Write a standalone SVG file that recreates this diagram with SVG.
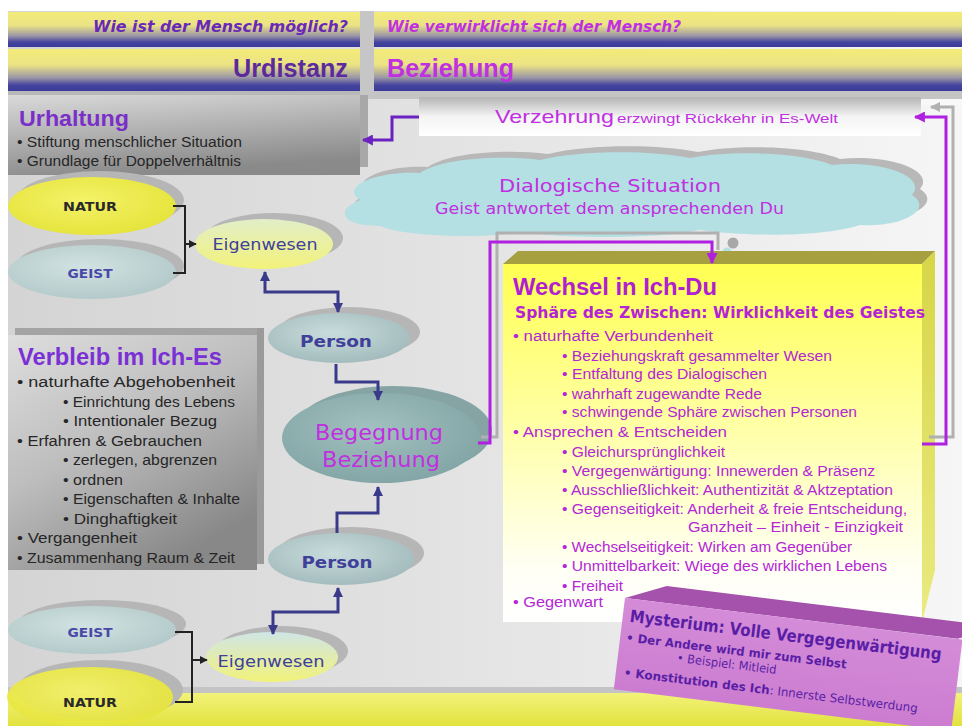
<svg xmlns="http://www.w3.org/2000/svg" width="962" height="726" viewBox="0 0 962 726">
<defs>
<linearGradient id="bg" x1="0" y1="0" x2="1" y2="0"><stop offset="0" stop-color="#d4d4d4"/><stop offset="0.5" stop-color="#e4e4e4"/><stop offset="1" stop-color="#f6f6f6"/></linearGradient>
<linearGradient id="hd" x1="0" y1="0" x2="0" y2="1"><stop offset="0" stop-color="#f3eb78"/><stop offset="0.38" stop-color="#ebe384"/><stop offset="0.68" stop-color="#9c97a6"/><stop offset="0.86" stop-color="#45449e"/><stop offset="1" stop-color="#3a3a9a"/></linearGradient>
<linearGradient id="band" x1="0" y1="0" x2="0" y2="1"><stop offset="0" stop-color="#f2f27a"/><stop offset="1" stop-color="#e2e23e"/></linearGradient>
<linearGradient id="urh" x1="0" y1="0" x2="0.3" y2="1"><stop offset="0" stop-color="#dadada"/><stop offset="1" stop-color="#8a8a8a"/></linearGradient>
<linearGradient id="ver" x1="0" y1="0" x2="0.6" y2="1"><stop offset="0" stop-color="#dedede"/><stop offset="0.5" stop-color="#bdbdbd"/><stop offset="1" stop-color="#888888"/></linearGradient>
<linearGradient id="vz" x1="0" y1="0" x2="0" y2="1"><stop offset="0" stop-color="#b4b4b4"/><stop offset="0.5" stop-color="#f4f4f4"/><stop offset="1" stop-color="#ffffff"/></linearGradient>
<linearGradient id="yb" x1="0" y1="0" x2="0" y2="1"><stop offset="0" stop-color="#ffff52"/><stop offset="0.45" stop-color="#ffffa6"/><stop offset="0.85" stop-color="#fffff4"/><stop offset="1" stop-color="#ffffff"/></linearGradient>
<linearGradient id="ys" x1="0" y1="0" x2="0" y2="1"><stop offset="0" stop-color="#d6d648"/><stop offset="1" stop-color="#eaea80"/></linearGradient>
<linearGradient id="my" x1="0" y1="0" x2="0" y2="1"><stop offset="0" stop-color="#d48cd8"/><stop offset="1" stop-color="#cc7cd0"/></linearGradient>
<radialGradient id="gY" cx="0.45" cy="0.4" r="0.6"><stop offset="0" stop-color="#f4f268"/><stop offset="1" stop-color="#e6e43c"/></radialGradient>
<radialGradient id="gG" cx="0.45" cy="0.4" r="0.6"><stop offset="0" stop-color="#d2e2e2"/><stop offset="1" stop-color="#b4caca"/></radialGradient>
<radialGradient id="gP" cx="0.45" cy="0.4" r="0.6"><stop offset="0" stop-color="#c8dcdc"/><stop offset="1" stop-color="#a4bcbe"/></radialGradient>
<radialGradient id="gB" cx="0.45" cy="0.4" r="0.6"><stop offset="0" stop-color="#a2c0c0"/><stop offset="1" stop-color="#84a6a6"/></radialGradient>
<linearGradient id="gE1" x1="0" y1="0" x2="0" y2="1"><stop offset="0" stop-color="#e2eec8"/><stop offset="1" stop-color="#f2f27a"/></linearGradient>
<linearGradient id="gE2" x1="0" y1="0" x2="0" y2="1"><stop offset="0" stop-color="#cfe6e6"/><stop offset="1" stop-color="#f2f27a"/></linearGradient>
<marker id="mb" viewBox="0 0 10 10" refX="9" refY="5" markerWidth="10" markerHeight="10" orient="auto-start-reverse" markerUnits="userSpaceOnUse"><path d="M0,0 L10,5 L0,10 z" fill="#3a3a8a"/></marker>
<marker id="mm" viewBox="0 0 10 10" refX="9" refY="5" markerWidth="11" markerHeight="11" orient="auto" markerUnits="userSpaceOnUse"><path d="M0,0 L10,5 L0,10 z" fill="#b020e0"/></marker>
<marker id="mp" viewBox="0 0 10 10" refX="9" refY="5" markerWidth="11" markerHeight="11" orient="auto" markerUnits="userSpaceOnUse"><path d="M0,0 L10,5 L0,10 z" fill="#6a22c0"/></marker>
<marker id="mk" viewBox="0 0 10 10" refX="9" refY="5" markerWidth="8" markerHeight="8" orient="auto" markerUnits="userSpaceOnUse"><path d="M0,0 L10,5 L0,10 z" fill="#222"/></marker>
<marker id="mg" viewBox="0 0 10 10" refX="9" refY="5" markerWidth="10" markerHeight="10" orient="auto" markerUnits="userSpaceOnUse"><path d="M0,0 L10,5 L0,10 z" fill="#b0b0b0"/></marker>
</defs>
<style>
.t{font-family:"Liberation Sans",Arial,sans-serif}
.d{font-family:"DejaVu Sans",Verdana,sans-serif}
.bl{font-size:14px;fill:#262626}
.yl{font-size:14px;fill:#b426d6}
.sh{fill:#b6b6b6}
.bt{font-weight:bold;font-size:16px;fill:#40409a;text-anchor:middle}
.blue{fill:none;stroke:#3a3a8a;stroke-width:3}
.mag{fill:none;stroke:#b020e0;stroke-width:3}
.gry{fill:none;stroke:#b0b0b0;stroke-width:3}
</style>
<rect width="962" height="726" fill="#ffffff"/>
<rect x="8" y="11" width="954" height="715" fill="url(#bg)"/>
<rect x="900" y="91" width="62" height="14" fill="#f8f8f8"/>

<g id="header">
<rect x="8" y="91" width="360" height="8" fill="#b8b8b8"/>
<rect x="374" y="91" width="588" height="8" fill="#c4c4c4"/>
<rect x="360" y="11" width="14" height="88" fill="#c6c6c6"/>
<rect x="8" y="12" width="352" height="35" fill="url(#hd)"/>
<rect x="374" y="12" width="588" height="35" fill="url(#hd)"/>
<rect x="8" y="49" width="352" height="42" fill="url(#hd)"/>
<rect x="374" y="49" width="588" height="42" fill="url(#hd)"/>
<text class="d" x="93" y="32" font-size="15" font-weight="bold" font-style="italic" fill="#6a28b8" textLength="255" lengthAdjust="spacingAndGlyphs">Wie ist der Mensch  möglich?</text>
<text class="d" x="387" y="32" font-size="15" font-weight="bold" font-style="italic" fill="#c030e0" textLength="294" lengthAdjust="spacingAndGlyphs">Wie verwirklicht sich der Mensch?</text>
<text class="t" x="233" y="77" font-size="26" font-weight="bold" fill="#5c2a9c" textLength="115" lengthAdjust="spacingAndGlyphs">Urdistanz</text>
<text class="t" x="387" y="77" font-size="26" font-weight="bold" fill="#c030e0" textLength="127" lengthAdjust="spacingAndGlyphs">Beziehung</text>
</g>

<g id="bottom-band">
<rect x="8" y="687" width="954" height="7" fill="#c4c4c4"/>
<rect x="8" y="693" width="954" height="33" fill="url(#band)"/>
</g>

<g id="urhaltung">
<rect x="360" y="95" width="8" height="72" fill="#a8a8a8"/>
<rect x="8" y="95" width="352" height="80" fill="url(#urh)"/>
<text class="t" x="19" y="126" font-size="22" font-weight="bold" fill="#7a30c8" textLength="110" lengthAdjust="spacingAndGlyphs">Urhaltung</text>
<text class="t bl" x="17" y="147" textLength="225" lengthAdjust="spacingAndGlyphs">• Stiftung menschlicher Situation</text>
<text class="t bl" x="17" y="166" textLength="224" lengthAdjust="spacingAndGlyphs">• Grundlage für Doppelverhältnis</text>
</g>

<g id="verzehrung">
<rect x="419" y="97" width="502" height="39" fill="url(#vz)"/>
<text class="t" x="495" y="123" font-size="19" fill="#c030e0" textLength="119" lengthAdjust="spacingAndGlyphs">Verzehrung</text>
<text class="t" x="617" y="123" font-size="13" fill="#c030e0" textLength="221" lengthAdjust="spacingAndGlyphs">erzwingt Rückkehr in Es-Welt</text>
</g>

<g id="dialog-cloud">
<path transform="translate(8,-6)" fill="#b8b8b8" d="M360,200 C338,186 380,170 420,173 C442,158 500,155 540,160 C580,150 650,150 690,158 C730,150 800,152 832,165 C880,160 928,176 912,195 C935,210 900,228 860,225 C820,238 740,236 700,230 C650,240 560,238 520,232 C470,240 400,235 380,226 C340,226 335,210 360,200 Z"/>
<path fill="#b4dfe3" d="M360,200 C338,186 380,170 420,173 C442,158 500,155 540,160 C580,150 650,150 690,158 C730,150 800,152 832,165 C880,160 928,176 912,195 C935,210 900,228 860,225 C820,238 740,236 700,230 C650,240 560,238 520,232 C470,240 400,235 380,226 C340,226 335,210 360,200 Z"/>
<text class="d" x="499" y="192" font-size="18" fill="#c030e0" textLength="222" lengthAdjust="spacingAndGlyphs">Dialogische Situation</text>
<text class="d" x="435" y="214" font-size="15" fill="#c030e0" textLength="349" lengthAdjust="spacingAndGlyphs">Geist antwortet dem ansprechenden Du</text>
<circle cx="733" cy="243" r="5.5" fill="#a8a8a8"/>
<circle cx="727" cy="252" r="4.5" fill="#b4dfe3"/>
<circle cx="767" cy="265" r="3" fill="#a8a8a8"/>
<circle cx="758" cy="273" r="3" fill="#b4dfe3"/>
<circle cx="797" cy="283" r="1.5" fill="#b8c8c8"/>
</g>

<g id="verbleib">
<rect x="15" y="328" width="248" height="7" fill="#a4a4a4"/>
<rect x="257" y="328" width="7" height="236" fill="#9a9a9a"/>
<rect x="8" y="335" width="249" height="235" fill="url(#ver)"/>
<text class="t" x="18" y="365" font-size="23" font-weight="bold" fill="#7a30d4" textLength="204" lengthAdjust="spacingAndGlyphs">Verbleib im Ich-Es</text>
<text class="t bl" x="17" y="387" textLength="218" lengthAdjust="spacingAndGlyphs">• naturhafte Abgehobenheit</text>
<text class="t bl" x="63" y="406.5" textLength="172" lengthAdjust="spacingAndGlyphs">• Einrichtung des Lebens</text>
<text class="t bl" x="63" y="426" textLength="154" lengthAdjust="spacingAndGlyphs">• Intentionaler  Bezug</text>
<text class="t bl" x="17" y="445.5" textLength="185" lengthAdjust="spacingAndGlyphs">• Erfahren &amp; Gebrauchen</text>
<text class="t bl" x="63" y="465" textLength="154" lengthAdjust="spacingAndGlyphs">• zerlegen, abgrenzen</text>
<text class="t bl" x="63" y="484.5" textLength="60" lengthAdjust="spacingAndGlyphs">• ordnen</text>
<text class="t bl" x="63" y="504" textLength="177" lengthAdjust="spacingAndGlyphs">• Eigenschaften  &amp; Inhalte</text>
<text class="t bl" x="63" y="523.5" textLength="114" lengthAdjust="spacingAndGlyphs">• Dinghaftigkeit</text>
<text class="t bl" x="17" y="543" textLength="120" lengthAdjust="spacingAndGlyphs">• Vergangenheit</text>
<text class="t bl" x="17" y="562.5" textLength="218" lengthAdjust="spacingAndGlyphs">• Zusammenhang  Raum &amp; Zeit</text>
</g>

<g id="wechsel">
<polygon points="503,264 518,251 935,251 922,264" fill="#a6a040"/>
<polygon points="922,264 935,251 935,570 922,622" fill="url(#ys)"/>
<rect x="503" y="264" width="419" height="358" fill="url(#yb)"/>
<text class="t" x="513" y="295" font-size="23" font-weight="bold" fill="#b020d0" textLength="204" lengthAdjust="spacingAndGlyphs">Wechsel in Ich-Du</text>
<text class="d" x="515" y="318" font-size="15" font-weight="bold" fill="#b424d4" textLength="410" lengthAdjust="spacingAndGlyphs">Sphäre des Zwischen: Wirklichkeit des Geistes</text>
<text class="t yl" x="513" y="341" textLength="200" lengthAdjust="spacingAndGlyphs">• naturhafte Verbundenheit</text>
<text class="t yl" x="562" y="361" textLength="270" lengthAdjust="spacingAndGlyphs">• Beziehungskraft  gesammelter Wesen</text>
<text class="t yl" x="562" y="379" textLength="205" lengthAdjust="spacingAndGlyphs">• Entfaltung  des  Dialogischen</text>
<text class="t yl" x="562" y="399" textLength="200" lengthAdjust="spacingAndGlyphs">• wahrhaft zugewandte  Rede</text>
<text class="t yl" x="562" y="417" textLength="295" lengthAdjust="spacingAndGlyphs">• schwingende  Sphäre  zwischen  Personen</text>
<text class="t yl" x="513" y="437" textLength="214" lengthAdjust="spacingAndGlyphs">• Ansprechen  &amp; Entscheiden</text>
<text class="t yl" x="562" y="457" textLength="163" lengthAdjust="spacingAndGlyphs">• Gleichursprünglichkeit</text>
<text class="t yl" x="562" y="476" textLength="313" lengthAdjust="spacingAndGlyphs">• Vergegenwärtigung: Innewerden  &amp; Präsenz</text>
<text class="t yl" x="562" y="495" textLength="331" lengthAdjust="spacingAndGlyphs">• Ausschließlichkeit: Authentizität  &amp; Aktzeptation</text>
<text class="t yl" x="562" y="514" textLength="345" lengthAdjust="spacingAndGlyphs">• Gegenseitigkeit: Anderheit  &amp; freie Entscheidung,</text>
<text class="t yl" x="688" y="532" textLength="215" lengthAdjust="spacingAndGlyphs">Ganzheit – Einheit - Einzigkeit</text>
<text class="t yl" x="562" y="552" textLength="290" lengthAdjust="spacingAndGlyphs">• Wechselseitigkeit: Wirken am  Gegenüber</text>
<text class="t yl" x="562" y="571" textLength="325" lengthAdjust="spacingAndGlyphs">• Unmittelbarkeit: Wiege des  wirklichen Lebens</text>
<text class="t yl" x="562" y="591" textLength="61" lengthAdjust="spacingAndGlyphs">• Freiheit</text>
<text class="t yl" x="513" y="607" textLength="90" lengthAdjust="spacingAndGlyphs">• Gegenwart</text>
</g>

<g id="mysterium" transform="rotate(7 625 598)">
<polygon points="625,598 665,581 1000,581 960,598" fill="#a452ac"/>
<rect x="625" y="598" width="340" height="92" fill="url(#my)"/>
<text class="d" x="632" y="621" font-size="17" font-weight="bold" fill="#5a1ea6" textLength="314" lengthAdjust="spacingAndGlyphs">Mysterium: Volle Vergegenwärtigung</text>
<text class="d" x="631" y="641" font-size="12" font-weight="bold" fill="#5a1ea6" textLength="222" lengthAdjust="spacingAndGlyphs">• Der Andere wird mir zum Selbst</text>
<text class="d" x="684" y="655" font-size="12" fill="#5a1ea6" textLength="100" lengthAdjust="spacingAndGlyphs">• Beispiel: Mitleid</text>
<text class="d" x="633" y="676" font-size="12" fill="#5a1ea6" textLength="296" lengthAdjust="spacingAndGlyphs"><tspan font-weight="bold">• Konstitution des Ich</tspan>: Innerste Selbstwerdung</text>
</g>

<g id="natur-top">
<ellipse class="sh" cx="100" cy="200" rx="84" ry="29"/>
<ellipse cx="92" cy="206" rx="84" ry="29" fill="url(#gY)"/>
<text class="d" x="90" y="211" font-size="13" font-weight="bold" fill="#2a2a2a" text-anchor="middle" textLength="54" lengthAdjust="spacingAndGlyphs">NATUR</text>
</g>
<g id="geist-top">
<ellipse class="sh" cx="100" cy="266" rx="84" ry="27"/>
<ellipse cx="92" cy="272" rx="84" ry="27" fill="url(#gG)"/>
<text class="d" x="90" y="278" font-size="13" font-weight="bold" fill="#4848a8" text-anchor="middle" textLength="45" lengthAdjust="spacingAndGlyphs">GEIST</text>
</g>
<g id="eigenwesen-top">
<ellipse class="sh" cx="274" cy="238" rx="69" ry="25"/>
<ellipse cx="264" cy="244" rx="69" ry="25" fill="url(#gE1)"/>
<text class="d" x="265" y="250" font-size="16" fill="#40409a" text-anchor="middle" textLength="105" lengthAdjust="spacingAndGlyphs">Eigenwesen</text>
</g>
<g id="person-top">
<ellipse class="sh" cx="349" cy="332" rx="71" ry="25"/>
<ellipse cx="339" cy="338" rx="71" ry="25" fill="url(#gP)"/>
<text class="d bt" x="336" y="347" font-size="18" textLength="72" lengthAdjust="spacingAndGlyphs">Person</text>
</g>
<g id="begegnung">
<ellipse cx="393" cy="431" rx="99" ry="45" fill="#86a4a4"/>
<ellipse cx="381" cy="438" rx="99" ry="45" fill="url(#gB)"/>
<text class="d" x="379" y="440" font-size="22" fill="#c030e0" text-anchor="middle" textLength="128" lengthAdjust="spacingAndGlyphs">Begegnung</text>
<text class="d" x="381" y="467" font-size="22" fill="#c030e0" text-anchor="middle" textLength="118" lengthAdjust="spacingAndGlyphs">Beziehung</text>
</g>
<g id="person-bottom">
<ellipse class="sh" cx="351" cy="553" rx="73" ry="26"/>
<ellipse cx="341" cy="559" rx="73" ry="26" fill="url(#gP)"/>
<text class="d bt" x="337" y="568" font-size="18" textLength="71" lengthAdjust="spacingAndGlyphs">Person</text>
</g>
<g id="eigenwesen-bottom">
<ellipse class="sh" cx="282" cy="651" rx="66" ry="25"/>
<ellipse cx="272" cy="657" rx="66" ry="25" fill="url(#gE2)"/>
<text class="d" x="271" y="667" font-size="16" fill="#40409a" text-anchor="middle" textLength="107" lengthAdjust="spacingAndGlyphs">Eigenwesen</text>
</g>
<g id="geist-bottom">
<ellipse class="sh" cx="102" cy="624" rx="84" ry="24"/>
<ellipse cx="92" cy="630" rx="84" ry="24" fill="url(#gG)"/>
<text class="d" x="90" y="637" font-size="13" font-weight="bold" fill="#4848a8" text-anchor="middle" textLength="45" lengthAdjust="spacingAndGlyphs">GEIST</text>
</g>
<g id="natur-bottom">
<ellipse class="sh" cx="100" cy="690" rx="83" ry="30"/>
<ellipse cx="90" cy="697" rx="83" ry="30" fill="url(#gY)" opacity="0.95"/>
<text class="d" x="90" y="707" font-size="13" font-weight="bold" fill="#2a2a2a" text-anchor="middle" textLength="54" lengthAdjust="spacingAndGlyphs">NATUR</text>
</g>

<g id="connectors">
<path d="M173,206 H185 V273 H173" fill="none" stroke="#222" stroke-width="2"/>
<path d="M185,244 H196" fill="none" stroke="#222" stroke-width="2" marker-end="url(#mk)"/>
<path d="M175,632 H192 V702 H175" fill="none" stroke="#222" stroke-width="2"/>
<path d="M192,660 H207" fill="none" stroke="#222" stroke-width="2" marker-end="url(#mk)"/>
<path class="blue" d="M265,272 V292 H338 V312" marker-start="url(#mb)" marker-end="url(#mb)"/>
<path class="blue" d="M336,364 V382 H378 V400" marker-end="url(#mb)"/>
<path class="blue" d="M337,533 V513 H378 V487" marker-end="url(#mb)"/>
<path class="blue" d="M338,588 V612 H273 V634" marker-start="url(#mb)" marker-end="url(#mb)"/>
<path d="M419,117 H392 V140 H363" fill="none" stroke="#6a22c0" stroke-width="3" marker-end="url(#mp)"/>
<path class="gry" d="M481,437 H497 V233 H718 V250"/>
<path class="mag" d="M478,443 H490 V242 H712 V263" marker-end="url(#mm)"/>
<path class="gry" d="M929,437 H953 V107 H931" marker-end="url(#mg)"/>
<path class="mag" d="M922,444 H946 V117 H915" marker-end="url(#mm)"/>
</g>
</svg>
